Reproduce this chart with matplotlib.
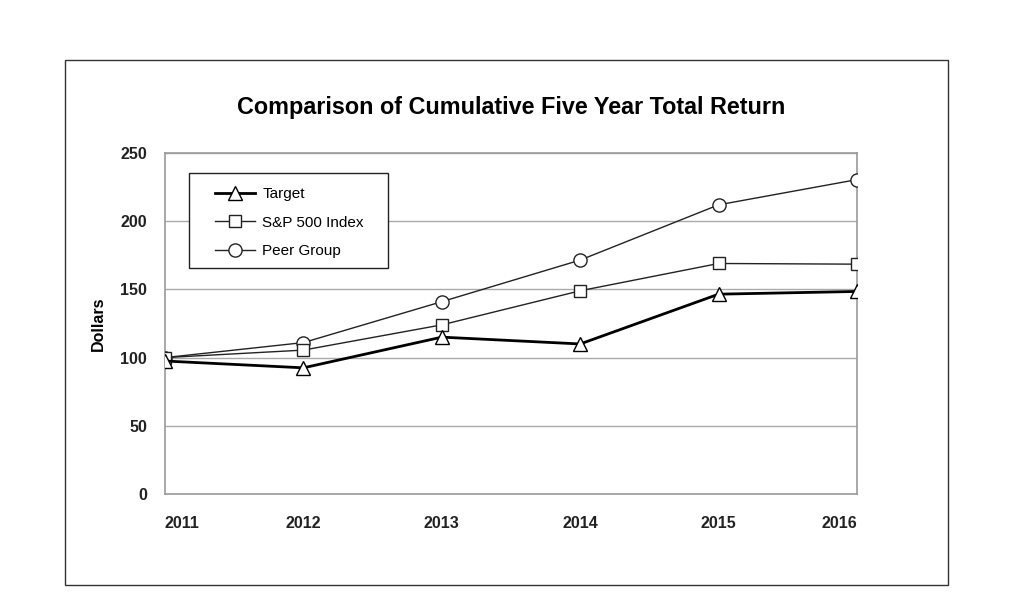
import matplotlib.pyplot as plt
from matplotlib.patches import Rectangle

plt.rcParams["font.family"] = ["Liberation Sans", "DejaVu Sans"]

YEARS = ["2011", "2012", "2013", "2014", "2015", "2016"]
TARGET = [97.5, 92.5, 115.0, 110.0, 146.5, 148.5]
SP500 = [100.0, 105.5, 124.0, 149.0, 169.0, 168.5]
PEER = [100.0, 111.0, 141.0, 171.5, 212.0, 230.5]
Y_TICKS = [0, 50, 100, 150, 200, 250]

fig = plt.figure(figsize=(10.12, 6.08), dpi=100)
fig.patches.append(Rectangle((65 / 1012, 1 - 585 / 608), 883 / 1012, 525 / 608,
                             transform=fig.transFigure, fill=False,
                             edgecolor="#333333", linewidth=1.0))

ax = fig.add_axes([165 / 1012, 1 - 494 / 608, 692 / 1012, 341 / 608])
x = list(range(len(YEARS)))

ax.plot(x, TARGET, color="black", linewidth=2.0, marker="^", markersize=10,
        markerfacecolor="white", markeredgecolor="black", markeredgewidth=1.0,
        label="Target", zorder=5)
ax.plot(x, SP500, color="#222222", linewidth=1.0, marker="s", markersize=9,
        markerfacecolor="white", markeredgecolor="#222222", markeredgewidth=1.0,
        label="S&P 500 Index", zorder=4)
ax.plot(x, PEER, color="#222222", linewidth=1.0, marker="o", markersize=9.5,
        markerfacecolor="white", markeredgecolor="#222222", markeredgewidth=1.0,
        label="Peer Group", zorder=3)

ax.set_xlim(0, len(YEARS) - 1)
ax.set_ylim(0, 250)
ax.set_yticks(Y_TICKS)
ax.set_yticklabels([str(v) for v in Y_TICKS], fontweight="bold", fontsize=11.5)
ax.set_xticks(x)
ax.set_xticklabels(YEARS, fontweight="bold", fontsize=11.5)
ax.tick_params(axis="both", length=0, colors="#222222")
ax.tick_params(axis="x", pad=16)
ax.tick_params(axis="y", pad=13)
xlabs = ax.get_xticklabels()
xlabs[0].set_horizontalalignment("left")
xlabs[-1].set_horizontalalignment("right")

ax.grid(axis="y", color="#aaaaaa", linewidth=1.0)
ax.set_axisbelow(True)
for s in ax.spines.values():
    s.set_color("#999999")
    s.set_linewidth(1.2)

ax.set_ylabel("Dollars", fontweight="bold", fontsize=11.5, labelpad=10)

fig.text(511 / 1012, 1 - 108 / 608, "Comparison of Cumulative Five Year Total Return",
         ha="center", va="center", fontsize=16.8, fontweight="bold")

# legend frame drawn separately so the entries can sit further in from the left edge
ax.add_patch(Rectangle((0.0347, 0.6628), 0.2876, 0.2786, transform=ax.transAxes,
                       facecolor="white", edgecolor="#222222", linewidth=1.0, zorder=6))
leg = ax.legend(loc="upper left", bbox_to_anchor=(0.0723, 0.900), fontsize=11,
                frameon=False, borderpad=0, labelspacing=0.95, handlelength=2.6,
                handletextpad=0.5, borderaxespad=0)
leg.set_zorder(7)

fig.savefig("out.png", dpi=100, facecolor="white")
